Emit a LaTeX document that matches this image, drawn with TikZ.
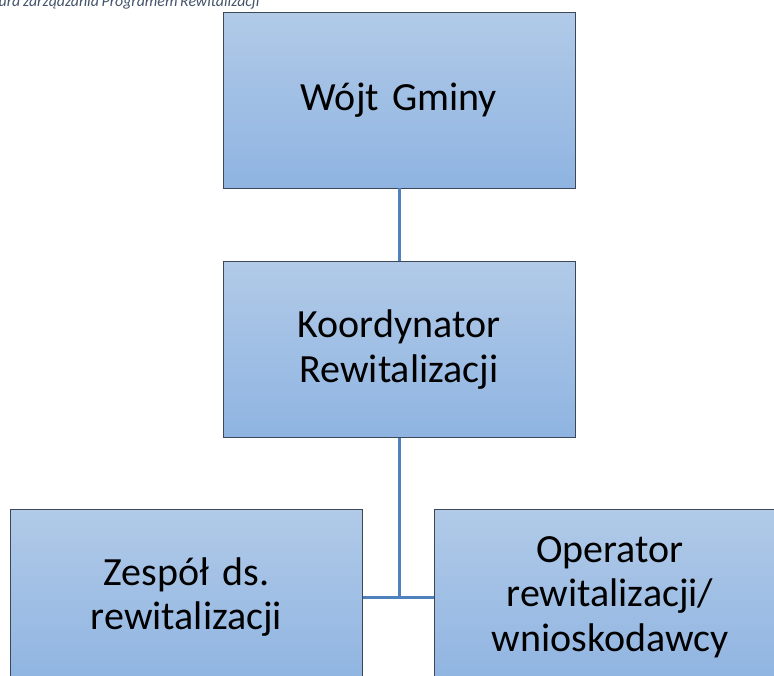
\documentclass[tikz,border=0pt]{standalone}
\usepackage{fontspec}
\setmainfont{Carlito}[WordSpace=0.75]
\usepackage{tikz}
\usetikzlibrary{positioning}

\definecolor{boxtop}{RGB}{177,202,232}
\definecolor{boxbottom}{RGB}{143,180,225}
\definecolor{boxline}{RGB}{60,72,88}
\definecolor{linkblue}{RGB}{79,129,189}
\definecolor{captiongray}{RGB}{68,84,106}

\begin{document}
\begin{tikzpicture}[x=1pt,y=-1pt,
        unitbox/.style={draw=boxline,line width=0.9pt,top color=boxtop,bottom color=boxbottom,
            minimum width=352pt,minimum height=176pt,inner sep=0pt,text width=340pt,align=center,
            font=\fontsize{40}{44.5}\selectfont},
        link/.style={draw=linkblue,line width=3pt}]
        \useasboundingbox (0,0) rectangle (774,675);
        \clip (0,0) rectangle (774,675);

        \node [anchor=base west,text=captiongray,font=\fontsize{15.8}{18}\selectfont\itshape,inner sep=0pt] (caption) at (-1.5,6.5) {ura zarządzania Programem Rewitalizacji};

        \node [unitbox] (wojt) at (399,100) {Wójt Gminy};
        \node [unitbox] (koord) at (399,349.5) {Koordynator\\Rewitalizacji};
        \node [unitbox] (zespol) at (186.5,597) {Zespół ds.\\rewitalizacji};
        \node [unitbox] (operator) at (610,597) {Operator\\rewitalizacji/\\wnioskodawcy};

        \draw [link] (wojt.south) -- (koord.north);
        \draw [link] (koord.south) -- (koord.south |- zespol.east);
        \draw [link] (zespol.east) -- (operator.west);
\end{tikzpicture}
\end{document}
